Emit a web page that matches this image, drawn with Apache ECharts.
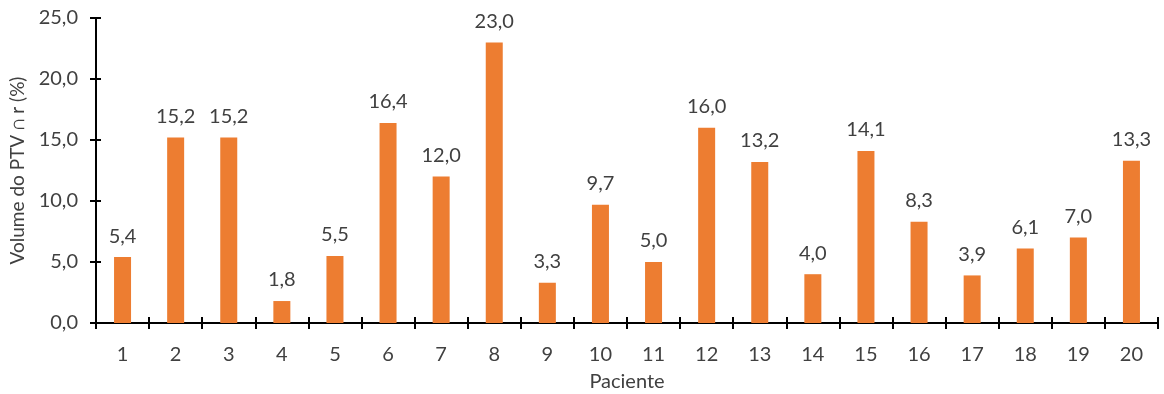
<!DOCTYPE html>
<html><head><meta charset="utf-8">
<script src="https://cdn.jsdelivr.net/npm/echarts@6/dist/echarts.min.js"></script>
<style>html,body{margin:0;padding:0;background:#fff}#c{width:1164px;height:394px}</style>
</head><body><div id="c"></div>
<script>
const categories = ['1','2','3','4','5','6','7','8','9','10','11','12','13','14','15','16','17','18','19','20'];
const values = [5.4, 15.2, 15.2, 1.8, 5.5, 16.4, 12.0, 23.0, 3.3, 9.7, 5.0, 16.0, 13.2, 4.0, 14.1, 8.3, 3.9, 6.1, 7.0, 13.3];
const yTitle = 'Volume do PTV ∩ r (%)';
const xTitle = 'Paciente';
const fmt = v => v.toFixed(1).replace('.', ',');
const font = 'Lato, "Open Sans", sans-serif';
const txt = '#404040';
const chart = echarts.init(document.getElementById('c'));
chart.setOption({
  animation: false,
  grid: {left: 96, right: 6, top: 18, bottom: 71, containLabel: false, outerBoundsMode: 'none'},
  xAxis: [{
    type: 'category', data: categories,
    axisLine: {lineStyle: {color: '#000', width: 2}},
    axisTick: {show: true, length: 6, lineStyle: {color: '#000', width: 2}},
    axisLabel: {color: txt, fontSize: 20, fontFamily: font, margin: 22},
    name: xTitle, nameLocation: 'middle', nameGap: 49,
    nameTextStyle: {color: txt, fontSize: 20, fontFamily: font}
  }, {
    type: 'category', data: categories, position: 'bottom',
    axisLine: {show: false},
    axisTick: {show: true, inside: true, length: 6, lineStyle: {color: '#000', width: 2}},
    axisLabel: {show: false}
  }],
  yAxis: [{
    type: 'value', min: 0, max: 25, interval: 5,
    splitLine: {show: false},
    axisLine: {show: true, lineStyle: {color: '#000', width: 2}},
    axisTick: {show: true, length: 6, lineStyle: {color: '#000', width: 2}},
    axisLabel: {color: txt, fontSize: 20, fontFamily: font, margin: 18, formatter: v => fmt(v)},
    name: yTitle, nameLocation: 'middle', nameGap: 67,
    nameTextStyle: {color: txt, fontSize: 19, fontFamily: font}
  }, {
    type: 'value', min: 0, max: 25, interval: 5, position: 'left',
    splitLine: {show: false},
    axisLine: {show: false},
    axisTick: {show: true, inside: true, length: 5, lineStyle: {color: '#000', width: 2}},
    axisLabel: {show: false}
  }],
  series: [{
    type: 'bar', data: values, xAxisIndex: 0, yAxisIndex: 0,
    barWidth: 17,
    itemStyle: {color: '#ED7D31'},
    label: {show: true, position: 'top', distance: 11, color: txt, fontSize: 20, fontFamily: font,
      formatter: p => fmt(p.value)}
  }]
});
</script></body></html>
